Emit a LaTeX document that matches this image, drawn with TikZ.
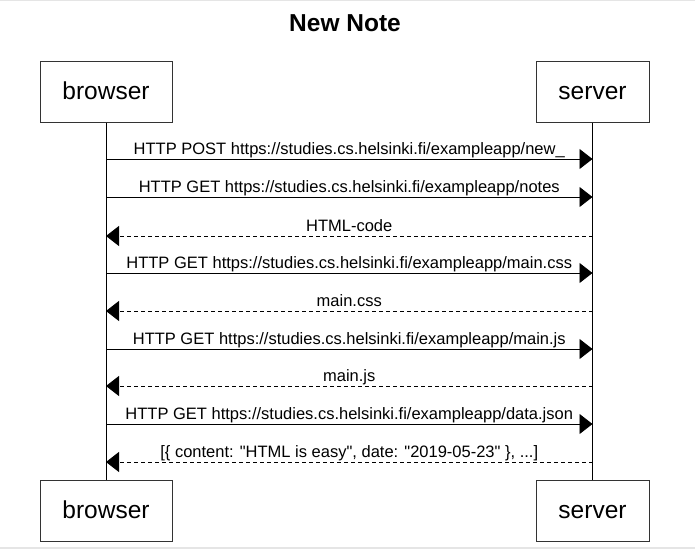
\documentclass[tikz,border=0pt]{standalone}
\usepackage{fontspec}
\setmainfont{Liberation Sans}
\usetikzlibrary{arrows.meta}
\begin{document}
\begin{tikzpicture}[x=1pt,y=-1pt,
  actor/.style={draw=black!80,line width=1pt,minimum width=#1,minimum height=61pt,inner sep=0pt,
    text height=16pt,text depth=0pt,font=\fontsize{24.5}{28}\selectfont},
  lifeline/.style={draw=black,line width=0.9pt},
  msg/.style={draw=black,line width=0.9pt,-{Triangle[length=13pt,width=20pt]}},
  reply/.style={msg,dash pattern=on 4pt off 3pt},
  lbl/.style={anchor=base,yshift=5pt,inner sep=0pt,font=\fontsize{16.5}{18}\selectfont},
  frame/.style={draw=black!10,line width=1.5pt}]
\useasboundingbox (0,0) rectangle (695,549);
\draw[frame] (0,0.5) -- (695,0.5);
\draw[frame] (0,548) -- (695,548);
\node[anchor=base,font=\fontsize{24.5}{28}\selectfont\bfseries] (title) at (345,31) {New Note};
\node[actor=132pt] (bt) at (106,91.5) {browser};
\node[actor=113pt] (st) at (592.5,91.5) {server};
\node[actor=132pt] (bb) at (106,510.5) {browser};
\node[actor=113pt] (sb) at (592.5,510.5) {server};
\draw[lifeline] (bt.south) -- (bb.north);
\draw[lifeline] (st.south) -- (sb.north);
\foreach \i/\y in {1/159,2/197,3/236,4/273,5/311,6/349,7/386,8/424,9/462}{
  \coordinate (b\i) at (bt.south |- 0,\y);
  \coordinate (s\i) at (st.south |- 0,\y);
}
\draw[msg] (b1) -- node[lbl]{HTTP POST https://studies.cs.helsinki.fi/exampleapp/new\_} (s1);
\draw[msg] (b2) -- node[lbl]{HTTP GET https://studies.cs.helsinki.fi/exampleapp/notes} (s2);
\draw[reply] (s3) -- node[lbl]{HTML-code} (b3);
\draw[msg] (b4) -- node[lbl]{HTTP GET https://studies.cs.helsinki.fi/exampleapp/main.css} (s4);
\draw[reply] (s5) -- node[lbl]{main.css} (b5);
\draw[msg] (b6) -- node[lbl]{HTTP GET https://studies.cs.helsinki.fi/exampleapp/main.js} (s6);
\draw[reply] (s7) -- node[lbl]{main.js} (b7);
\draw[msg] (b8) -- node[lbl]{HTTP GET https://studies.cs.helsinki.fi/exampleapp/data.json} (s8);
\draw[reply] (s9) -- node[lbl]{[\{ content: \textquotedbl HTML is easy\textquotedbl, date: \textquotedbl 2019-05-23\textquotedbl\ \}, ...]} (b9);
\end{tikzpicture}
\end{document}
